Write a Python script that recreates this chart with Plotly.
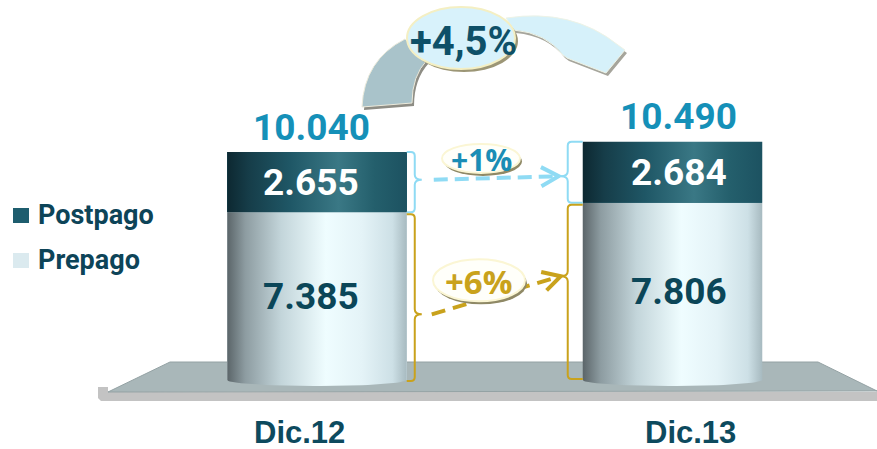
import numpy as np
import plotly.graph_objects as go

# ---------------- data ----------------
categories = ["Dic.12", "Dic.13"]
series_names = ["Postpago", "Prepago"]
prepago = [7385, 7806]
postpago = [2655, 2684]
totals = [10040, 10490]
total_labels = ["10.040", "10.490"]
prepago_labels = ["7.385", "7.806"]
postpago_labels = ["2.655", "2.684"]
growth_total = "+4,5%"
growth_post = "+1%"
growth_pre = "+6%"

# ---------------- geometry helpers ----------------
W, H = 877, 449
X0_PX, X_UNIT = 317.0, 355.5      # px of x=0, px per x unit
Y0_PX, Y_UNIT = 380.0, 44.04      # px of y=0, value units per px
BW = 0.505                        # bar width (x units)
xr = [(0 - X0_PX) / X_UNIT, (W - X0_PX) / X_UNIT]
yr = [-(H - Y0_PX) * Y_UNIT, Y0_PX * Y_UNIT]


def vx(v):
    return X0_PX + v * X_UNIT


def vy(v):
    return Y0_PX - v / Y_UNIT


def pxp(x):
    return x / W


def pyp(y):
    return 1 - y / H


def path(cmds):
    out = []
    for c, pts in cmds:
        s = c
        if pts:
            coords = []
            for i in range(0, len(pts), 2):
                coords.append(f"{pxp(pts[i]):.5f},{pyp(pts[i+1]):.5f}")
            s += " " + " ".join(coords)
        out.append(s)
    return " ".join(out)


def poly(points):
    cmds = [("M", list(points[0]))] + [("L", list(p)) for p in points[1:]] + [("Z", [])]
    return path(cmds)


shapes = []
annotations = []

# ---------------- floor ----------------
shapes.append(dict(type="path", xref="paper", yref="paper", layer="below",
                   path=poly([(98, 387), (108, 387), (108, 392), (877, 392), (877, 401), (101, 401), (98, 398)]),
                   fillcolor="#c3c3c3", line=dict(width=0)))
shapes.append(dict(type="path", xref="paper", yref="paper", layer="below",
                   path=poly([(170, 362), (818, 362), (877, 391), (108, 392)]),
                   fillcolor="#a9b7b9", line=dict(color="#94a2a4", width=1)))

# ---------------- traces ----------------
fig = go.Figure()
xs_idx = list(range(len(categories)))
fig.add_trace(go.Bar(x=xs_idx, y=prepago, width=BW, name=series_names[1],
                     marker=dict(color="#dbeaef", line=dict(width=0)), showlegend=False, hoverinfo="skip"))
fig.add_trace(go.Bar(x=xs_idx, y=postpago, width=BW, name=series_names[0],
                     marker=dict(color="#1e5d6e", line=dict(width=0)), showlegend=False, hoverinfo="skip"))

pre_cs = [[0, "#5b6569"], [0.1, "#8d9ca1"], [0.3, "#c3d5da"], [0.55, "#effdff"],
          [0.75, "#e4f3f7"], [0.92, "#cde0e6"], [1, "#a7bac0"]]
post_cs = [[0, "#0d2831"], [0.12, "#163d49"], [0.35, "#1f5766"], [0.62, "#3a7885"],
           [0.82, "#245f6c"], [1, "#1c5261"]]
E = 6 * Y_UNIT
for i in xs_idx:
    hw = BW / 2
    t = np.linspace(np.pi, 2 * np.pi, 40)
    bx = list(i + hw * np.cos(t))
    by = list(0 + E * np.sin(t))
    px_ = bx + [i + hw, i - hw, i - hw]
    py_ = by + [prepago[i], prepago[i], 0]
    fig.add_trace(go.Scatter(x=px_, y=py_, mode="lines", fill="toself", line=dict(width=0),
                             fillgradient=dict(type="horizontal", colorscale=pre_cs),
                             showlegend=False, hoverinfo="skip"))
    y0, y1 = prepago[i], prepago[i] + postpago[i]
    fig.add_trace(go.Scatter(x=[i - hw, i + hw, i + hw, i - hw, i - hw], y=[y0, y0, y1, y1, y0],
                             mode="lines", fill="toself", line=dict(width=0),
                             fillgradient=dict(type="horizontal", colorscale=post_cs),
                             showlegend=False, hoverinfo="skip"))

# ---------------- braces & arrows ----------------
BLUE = "#8fdbf4"
GOLD = "#c9a21c"


def brace_right(xe, yt, yb, ym, color):
    xv = xe + 8
    tip = xv + 7
    p = path([("M", [xe, yt]), ("L", [xv - 4, yt]), ("Q", [xv, yt, xv, yt + 4]),
              ("L", [xv, ym - 5]), ("Q", [xv, ym, tip, ym]), ("Q", [xv, ym, xv, ym + 5]),
              ("L", [xv, yb - 4]), ("Q", [xv, yb, xv - 4, yb]), ("L", [xe, yb])])
    shapes.append(dict(type="path", xref="paper", yref="paper", path=p,
                       line=dict(color=color, width=2)))
    return tip


def brace_left(xe, yt, yb, ym, color):
    xv = xe - 15
    tip = xv - 7
    p = path([("M", [xe, yt]), ("L", [xv + 4, yt]), ("Q", [xv, yt, xv, yt + 4]),
              ("L", [xv, ym - 5]), ("Q", [xv, ym, tip, ym]), ("Q", [xv, ym, xv, ym + 5]),
              ("L", [xv, yb - 4]), ("Q", [xv, yb, xv + 4, yb]), ("L", [xe, yb])])
    shapes.append(dict(type="path", xref="paper", yref="paper", path=p,
                       line=dict(color=color, width=2)))
    return tip


def arrow(x0, y0, x1, y1, color, dash):
    shapes.append(dict(type="line", xref="paper", yref="paper",
                       x0=pxp(x0), y0=pyp(y0), x1=pxp(x1 - 4), y1=pyp(y1 + (y1 - y0) * (-4) / (x1 - x0)),
                       line=dict(color=color, width=4, dash=dash)))
    ang = np.arctan2(y1 - y0, x1 - x0)
    L, sp = 20, 0.5
    a1 = (x1 - L * np.cos(ang - sp), y1 - L * np.sin(ang - sp))
    a2 = (x1 - L * np.cos(ang + sp), y1 - L * np.sin(ang + sp))
    p = path([("M", list(a1)), ("L", [x1, y1]), ("L", list(a2))])
    shapes.append(dict(type="path", xref="paper", yref="paper", path=p,
                       line=dict(color=color, width=4)))


xe_l = vx(0 + BW / 2)
xe_r = vx(1 - BW / 2)
# postpago (blue)
yt_l, yb_l = vy(totals[0]), vy(prepago[0])
yt_r, yb_r = vy(totals[1]), vy(prepago[1])
ym_l = yt_l + 0.46 * (yb_l - yt_l)
ym_r = yt_r + 0.565 * (yb_r - yt_r)
tl = brace_right(xe_l, yt_l, yb_l, ym_l, BLUE)
tr = brace_left(xe_r, yt_r, yb_r, ym_r, BLUE)
bx0, by0, bx1, by1 = tl + 12, ym_l, tr - 2, ym_r
arrow(bx0, by0, bx1, by1, BLUE, "14px,7px")
# prepago (gold)
gyt_l, gyb_l = vy(prepago[0]) + 2, vy(0) + 1
gyt_r, gyb_r = vy(prepago[1]) + 2, vy(0) - 1
gym_l = gyt_l + 0.6 * (gyb_l - gyt_l)
gym_r = gyt_r + 0.41 * (gyb_r - gyt_r)
tl = brace_right(xe_l, gyt_l, gyb_l, gym_l, GOLD)
tr = brace_left(xe_r, gyt_r, gyb_r, gym_r, GOLD)
gx0, gy0, gx1, gy1 = tl + 10, gym_l, tr, gym_r
arrow(gx0, gy0, gx1, gy1, GOLD, "14px,8px")

# ---------------- big curved arrow (top) ----------------
gray_band = [("M", [362, 107]), ("Q", [364, 60, 405, 39]), ("L", [427, 60]),
             ("Q", [412, 76, 412, 103]), ("Z", [])]
blue_band = [("M", [506, 18]), ("Q", [572, 8, 618, 45]), ("L", [625, 50]), ("L", [606, 73]),
             ("L", [567, 58]), ("L", [563, 55]), ("Q", [546, 33, 514, 30]), ("Z", [])]


def offset(cmds, dx, dy):
    return [(c, [v + (dx if k % 2 == 0 else dy) for k, v in enumerate(pts)]) for c, pts in cmds]


shapes.append(dict(type="path", xref="paper", yref="paper", path=path(offset(gray_band, 2, 3)),
                   fillcolor="#8e8d85", line=dict(width=0)))
shapes.append(dict(type="path", xref="paper", yref="paper", path=path(gray_band),
                   fillcolor="#a9c3ca", line=dict(color="#ecebdc", width=1)))
shapes.append(dict(type="path", xref="paper", yref="paper", path=path(offset(blue_band, 2, 3)),
                   fillcolor="#a6a59c", line=dict(width=0)))
shapes.append(dict(type="path", xref="paper", yref="paper", path=path(blue_band),
                   fillcolor="#d6f1fa", line=dict(color="#eef3e6", width=1)))


def ellipse(cx, cy, rx, ry, fill, border, shadow, sdx=3, sdy=3):
    shapes.append(dict(type="circle", xref="paper", yref="paper",
                       x0=pxp(cx - rx + sdx), x1=pxp(cx + rx + sdx), y0=pyp(cy + ry + sdy), y1=pyp(cy - ry + sdy),
                       fillcolor=shadow, line=dict(width=0)))
    shapes.append(dict(type="circle", xref="paper", yref="paper",
                       x0=pxp(cx - rx), x1=pxp(cx + rx), y0=pyp(cy + ry), y1=pyp(cy - ry),
                       fillcolor=fill, line=dict(color=border, width=2)))


def ptext(x, y, text, font, xanchor="center", height=None):
    a = dict(xref="paper", yref="paper", x=pxp(x), y=pyp(y), text=text, showarrow=False,
             xanchor=xanchor, yanchor="middle", font=font)
    if height:
        a["height"] = height
    annotations.append(a)


ellipse(461, 38, 54, 31, "#d8f2fb", "#f4efc3", "#9c9676")
ptext(463, 41, growth_total, dict(family="Roboto", size=40, color="#0e5068", weight="bold"))


def y_on(xq, x0, y0, x1, y1):
    return y0 + (y1 - y0) * (xq - x0) / (x1 - x0)


ecy1 = y_on(481, bx0, by0, bx1, by1) - 20
ellipse(481, ecy1, 39, 14.5, "#fffffa", "#fbf6d4", "#8f8966", 2, 3)
ptext(481, ecy1 + 1, growth_post, dict(family="Open Sans", size=30, color="#1a8db5", weight="bold"))
ecy2 = y_on(479, gx0, gy0, gx1, gy1) - 20
ellipse(479, ecy2, 46, 21, "#fffffa", "#fbf6d4", "#8f8966", 2, 3)
ptext(479, ecy2 + 1, growth_pre, dict(family="Open Sans", size=33, color="#c9a21c", weight="bold"))

# ---------------- value labels ----------------
shifts = [-6, 6]
for i in xs_idx:
    annotations.append(dict(xref="x", yref="y", x=i, y=prepago[i] / 2, text=prepago_labels[i],
                            showarrow=False, xshift=shifts[i], xanchor="center", yanchor="middle",
                            font=dict(family="Roboto", size=37, color="#0b4658", weight="bold")))
    annotations.append(dict(xref="x", yref="y", x=i, y=prepago[i] + postpago[i] / 2, text=postpago_labels[i],
                            showarrow=False, xshift=shifts[i], xanchor="center", yanchor="middle",
                            font=dict(family="Roboto", size=37, color="#ffffff", weight="bold")))
    annotations.append(dict(xref="x", yref="y", x=i, y=totals[i], text=total_labels[i],
                            showarrow=False, xshift=shifts[i], yshift=25, xanchor="center", yanchor="middle",
                            font=dict(family="Roboto", size=37, color="#1590b8", weight="bold")))
    annotations.append(dict(xref="x", yref="paper", x=i, y=pyp(432), text=categories[i],
                            showarrow=False, xshift=[-18, 18][i], xanchor="center", yanchor="middle",
                            height=30, valign="middle",
                            font=dict(family="Liberation Sans", size=31, color="#0d4a5e", weight="bold")))

# ---------------- legend ----------------
leg_colors = ["#1e5d6e", "#dbeaef"]
leg_y = [215, 260]
for k, name in enumerate(series_names):
    shapes.append(dict(type="rect", xref="paper", yref="paper",
                       x0=pxp(13), x1=pxp(29), y0=pyp(leg_y[k] + 8), y1=pyp(leg_y[k] - 7),
                       fillcolor=leg_colors[k], line=dict(width=0)))
    ptext(36, leg_y[k], name, dict(family="Roboto", size=27, color="#0d4458", weight="bold"), xanchor="left")

fig.update_layout(
    width=W, height=H, margin=dict(l=0, r=0, t=0, b=0),
    paper_bgcolor="white", plot_bgcolor="rgba(0,0,0,0)",
    barmode="stack", showlegend=False,
    xaxis=dict(range=xr, visible=False, fixedrange=True),
    yaxis=dict(range=yr, visible=False, fixedrange=True),
    shapes=shapes, annotations=annotations,
)
fig.write_html("out.html", config={"displayModeBar": False},
               post_script="document.body.style.margin='0';")
